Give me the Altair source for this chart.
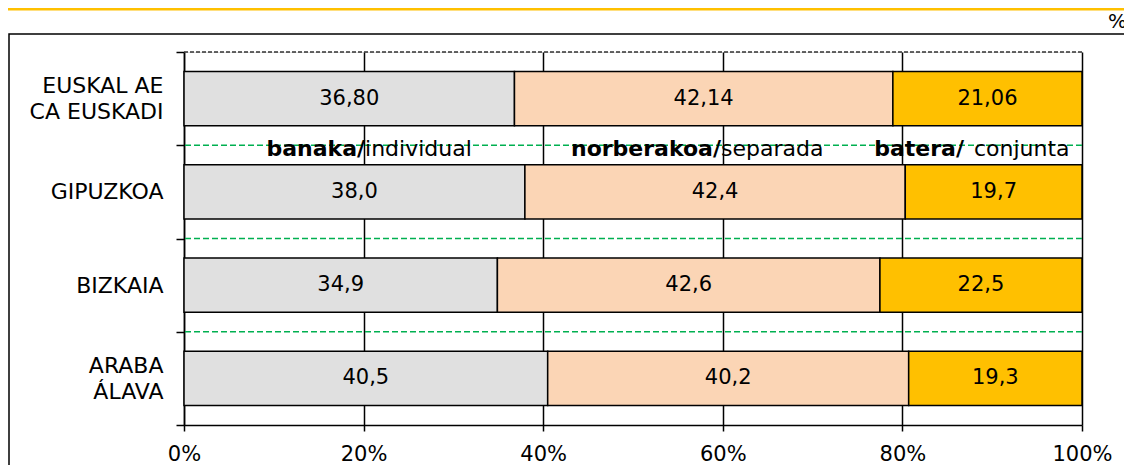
import altair as alt
import pandas as pd

# ---- data ----
regions = ["EUSKAL AE\nCA EUSKADI", "GIPUZKOA", "BIZKAIA", "ARABA\nÁLAVA"]
decimals = [2, 1, 1, 1]
individual = [36.80, 38.0, 34.9, 40.5]
separada = [42.14, 42.4, 42.6, 40.2]
conjunta = [21.06, 19.7, 22.5, 19.3]
series_key = ["individual", "separada", "conjunta"]
series_eu = ["banaka/", "norberakoa/", "batera/"]
series_es = ["individual", "separada", "conjunta"]
colors = ["#E0E0E0", "#FBD5B5", "#FFC000"]
x_ticks = [0, 0.2, 0.4, 0.6, 0.8, 1.0]

FONT = "DejaVu Sans"

rows = []
for i, reg in enumerate(regions):
    for j, vals in enumerate([individual, separada, conjunta]):
        v = vals[i]
        rows.append({
            "region": reg,
            "serie": series_key[j],
            "order": j,
            "value": v,
            "label": f"{v:.{decimals[i]}f}".replace(".", ","),
        })
df = pd.DataFrame(rows)

yscale = alt.Scale(domain=regions, paddingInner=0, paddingOuter=0)
xscale = alt.Scale(domain=[0, 1])

base = alt.Chart(df).transform_joinaggregate(
    total="sum(value)", groupby=["region"]
).transform_stack(
    stack="value", as_=["s0", "s1"], groupby=["region"],
    sort=[alt.SortField("order", order="ascending")]
).transform_calculate(
    x0="datum.s0 / datum.total",
    x1="datum.s1 / datum.total",
    xm="(datum.s0 + datum.s1) / 2 / datum.total",
)

bars = base.mark_bar(height={"band": 0.58}, stroke="black", strokeWidth=1.5).encode(
    x=alt.X("x0:Q", scale=xscale, axis=alt.Axis(
        values=x_ticks, format="%", grid=True, gridColor="black", gridWidth=1.5,
        domainColor="black", domainWidth=1.5, tickColor="black", tickWidth=1.5,
        tickSize=6, labelFontSize=21, labelFont=FONT, labelColor="black",
        labelPadding=12, labelFlush=False, title=None)),
    x2="x1:Q",
    y=alt.Y("region:N", sort=regions, scale=yscale, axis=alt.Axis(
        tickBand="extent", grid=False, domainColor="black", domainWidth=1.5,
        tickColor="black", tickWidth=1.5, tickSize=8, labelFontSize=22,
        labelFont=FONT, labelColor="black", labelPadding=13, labelLineHeight=26,
        labelExpr="split(datum.label, '\\n')", labelAlign="right",
        labelBaseline="middle",
        labelOffset={"condition": {
            "test": "isString(datum.value) && indexof(datum.value, '\\n') >= 0",
            "value": -13}, "value": 0},
        title=None)),
    color=alt.Color("serie:N", scale=alt.Scale(domain=series_key, range=colors), legend=None),
)

bar_text = base.mark_text(font=FONT, fontSize=21, color="black", baseline="middle").encode(
    x=alt.X("xm:Q", scale=xscale),
    y=alt.Y("region:N", sort=regions, scale=yscale),
    text="label:N",
)

# boundary dashed lines between regions
bound_df = pd.DataFrame({"region": regions})
green_rules = alt.Chart(bound_df).transform_filter(
    alt.FieldOneOfPredicate(field="region", oneOf=regions[1:])
).mark_rule(color="#00B050", strokeDash=[6, 3], strokeWidth=1.5).encode(
    y=alt.Y("region:N", sort=regions, scale=yscale, bandPosition=0),
)
top_rule = alt.Chart(bound_df).transform_filter(
    alt.FieldEqualPredicate(field="region", equal=regions[0])
).mark_rule(color="#333333", strokeDash=[4, 2], strokeWidth=1.5).encode(
    y=alt.Y("region:N", sort=regions, scale=yscale, bandPosition=0),
)

# series names written on the first boundary line
leg_df = pd.DataFrame({
    "region": [regions[1]] * 3,
    "eu": series_eu,
    "es": series_es,
    "xb": [0.2016, 0.598, 0.8686],
    "xn": [0.2016, 0.598, 0.8797],
})
leg_bold = alt.Chart(leg_df).mark_text(
    font=FONT, fontSize=22, fontWeight="bold", color="black", align="right",
    baseline="middle", dy=4
).encode(
    x=alt.X("xb:Q", scale=xscale),
    y=alt.Y("region:N", sort=regions, scale=yscale, bandPosition=0),
    text="eu:N",
)
leg_norm = alt.Chart(leg_df).mark_text(
    font=FONT, fontSize=22, color="black", align="left", baseline="middle", dy=4
).encode(
    x=alt.X("xn:Q", scale=xscale),
    y=alt.Y("region:N", sort=regions, scale=yscale, bandPosition=0),
    text="es:N",
)

one = pd.DataFrame({"k": [0]})
frame = alt.Chart(one).mark_rect(fillOpacity=0, stroke="black", strokeWidth=1.5).encode(
    x=alt.value(-175), x2=alt.value(1500), y=alt.value(-18), y2=alt.value(1000)
)
topline = alt.Chart(one).mark_rule(color="#FFC000", strokeWidth=3).encode(
    x=alt.value(-176), x2=alt.value(1500), y=alt.value(-43)
)
pct = alt.Chart(one).mark_text(font=FONT, fontSize=20, color="black", align="left",
                               baseline="middle").encode(
    x=alt.value(924), y=alt.value(-30), text=alt.value("%")
)

chart = alt.layer(
    frame, topline, pct, top_rule, green_rules, bars, bar_text, leg_bold, leg_norm
).properties(
    width=898, height=373,
    padding={"left": 176, "top": 44, "right": 42, "bottom": 40},
    autosize="none",
).configure_view(strokeWidth=0).configure(background="white")

chart.save("out.html", embed_options={"renderer": "svg", "actions": False})
